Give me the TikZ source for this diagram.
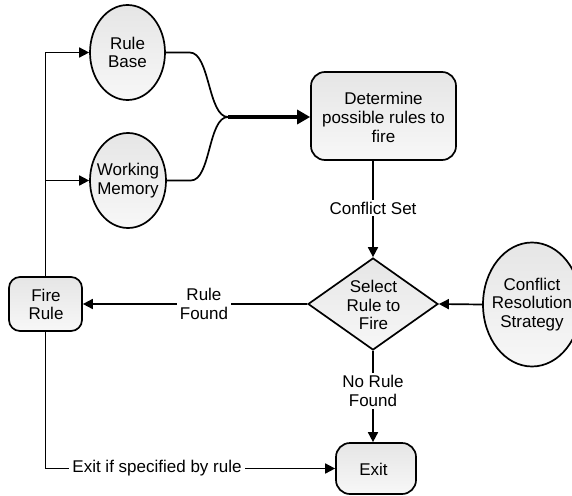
\documentclass[tikz,border=0pt]{standalone}
\usepackage{fontspec}
\setmainfont{Liberation Sans}
\usetikzlibrary{shapes.geometric,arrows.meta}
\begin{document}
\begin{tikzpicture}[x=1pt,y=-1pt,
  txt/.style={font=\fontsize{17}{18.8}\selectfont, align=center, inner sep=0pt},
  shaded/.style={draw, line width=1.7pt, top color=black!10, bottom color=black!3},
  bubble/.style={shaded, ellipse, inner sep=0pt},
  procbox/.style={shaded, rectangle, inner sep=0pt},
  decision/.style={shaded, diamond, inner sep=0pt},
  lbl/.style={txt, fill=white, inner xsep=3pt, inner ysep=2pt},
  link/.style={line width=1.7pt},
  arr/.style={link, -{Triangle[length=10pt,width=10pt]}}
]
\useasboundingbox (0,0) rectangle (572,495);

% knowledge sources
\node[bubble, minimum width=75pt, minimum height=95pt] (rb) at (127.5,52.5) {};
\node[txt] (rbt) at (rb) {Rule\\Base};
\node[bubble, minimum width=76pt, minimum height=95pt] (wm) at (128,180.5) {};
\node[txt] (wmt) at (wm) {Working\\Memory};

% matching step
\node[procbox, rounded corners=14pt, minimum width=145pt, minimum height=88pt] (det) at (383.5,116) {};
\node[txt] (dett) at (383.5,117.5) {Determine\\possible rules to\\fire};

% conflict resolution
\node[decision, minimum width=130pt, minimum height=92pt] (dia) at (373,304) {};
\node[txt] (diat) at (373.5,305) {Select\\Rule to\\Fire};
\node[bubble, minimum width=98pt, minimum height=124pt] (crs) at (532,304.5) {};
\node[txt] (crst) at (532,304.5) {Conflict\\Resolution\\Strategy};

% action and exit
\node[procbox, rounded corners=11pt, minimum width=73pt, minimum height=54pt] (fire) at (45.5,304) {};
\node[txt] (firet) at (46,304.5) {Fire\\Rule};
\node[procbox, rounded corners=14pt, minimum width=80pt, minimum height=51pt] (exit) at (376,468.5) {};
\node[txt] (exitt) at (373.5,469) {Exit};

% merge of the two sources into the matching step
\coordinate (merge) at (228,117);
\draw[link] (rb.east) -- ++(24,0) .. controls +(20,0) and +(-20,0) .. (merge);
\draw[link] (wm.east) -- ++(24,0) .. controls +(20,0) and +(-20,0) .. (merge);
\draw[line width=3.2pt, -{Triangle[length=13pt,width=14pt]}] (merge) -- (merge -| det.west);

% main cycle
\draw[arr] (dia.north |- det.south) -- node[lbl, pos=0.49] {Conflict Set} (dia.north);
\draw[arr] (crs.west) -- (dia.east);
\draw[arr] (dia.west) -- node[lbl, pos=0.46] {Rule\\Found} (fire.east);
\draw[arr] (dia.south) -- node[lbl, pos=0.44] {No Rule\\Found} (exit.north -| dia.south);
\draw[arr] (fire.north) -- (fire.north |- rb.west) -- (rb.west);
\draw[arr] (fire.north |- wm.west) -- (wm.west);
\draw[arr] (fire.south) -- (fire.south |- exit.west) -- node[lbl, pos=0.385] {Exit if specified by rule} (exit.west);
\end{tikzpicture}
\end{document}
